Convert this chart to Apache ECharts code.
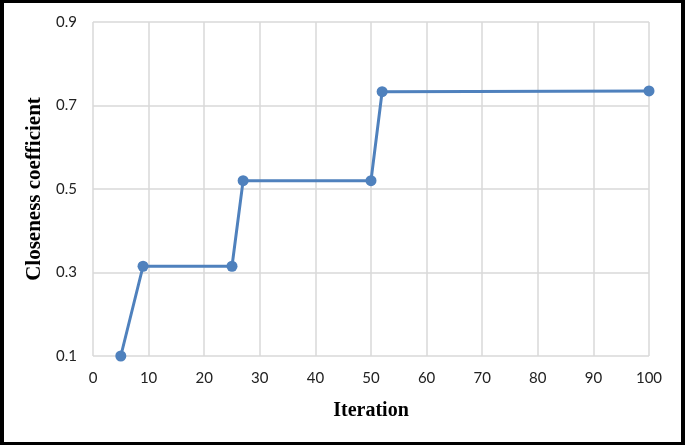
<!DOCTYPE html>
<html>
<head>
<meta charset="utf-8">
<script src="https://cdn.jsdelivr.net/npm/echarts@6/dist/echarts.min.js"></script>
<style>
  html, body { margin: 0; padding: 0; background: #fff; }
  #frame { width: 685px; height: 445px; box-sizing: border-box; border: 4px solid #000; border-top-width: 3px; border-bottom-width: 3px; position: relative; }
  #chart { position: absolute; left: -4px; top: -3px; width: 685px; height: 445px; }
</style>
</head>
<body>
<div id="frame"><div id="chart"></div></div>
<script>
const iterations = [5, 9, 25, 27, 50, 52, 100]
const closeness = [0.1, 0.315, 0.315, 0.52, 0.52, 0.733, 0.735]
const xTicks = [0, 10, 20, 30, 40, 50, 60, 70, 80, 90, 100]
const yTicks = ['0.1', '0.3', '0.5', '0.7', '0.9']

const gridColor = '#d9d9d9'
const lineColor = '#4f81bd'
const labelFont = 'Lato, "Open Sans", sans-serif'
const titleFont = '"Liberation Serif", "Times New Roman", serif'

const chart = echarts.init(document.getElementById('chart'))

chart.setOption({
  animation: false,
  grid: { left: 93, right: 36, top: 22, bottom: 89, containLabel: false },
  xAxis: {
    type: 'value',
    min: xTicks[0],
    max: xTicks[xTicks.length - 1],
    interval: 10,
    name: 'Iteration',
    nameLocation: 'middle',
    nameGap: 45,
    nameTextStyle: { fontFamily: titleFont, fontWeight: 'bold', fontSize: 20, color: '#000' },
    axisLine: { show: false },
    axisTick: { show: false },
    axisLabel: { fontFamily: labelFont, fontSize: 15, color: '#222', margin: 15 },
    splitLine: { show: true, lineStyle: { color: gridColor, width: 1.5 } },
  },
  yAxis: {
    type: 'value',
    min: Number(yTicks[0]),
    max: Number(yTicks[yTicks.length - 1]),
    interval: 0.2,
    name: 'Closeness coefficient',
    nameLocation: 'middle',
    nameGap: 41,
    nameRotate: 90,
    nameTextStyle: { fontFamily: titleFont, fontWeight: 'bold', fontSize: 21, color: '#000' },
    axisLine: { show: false },
    axisTick: { show: false },
    axisLabel: {
      fontFamily: labelFont,
      fontSize: 15,
      color: '#222',
      margin: 16,
      formatter: (v) => v.toFixed(1),
    },
    splitLine: { show: true, lineStyle: { color: gridColor, width: 1.5 } },
  },
  series: [
    {
      type: 'line',
      data: iterations.map((x, i) => [x, closeness[i]]),
      symbol: 'circle',
      symbolSize: 11,
      lineStyle: { color: lineColor, width: 3 },
      itemStyle: { color: lineColor },
    },
  ],
})
</script>
</body>
</html>
